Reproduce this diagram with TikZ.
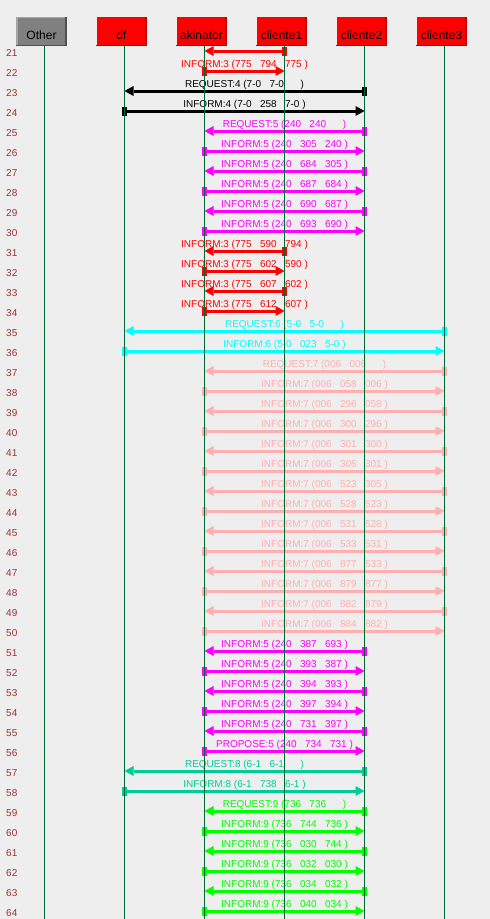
\documentclass[tikz,border=0pt]{standalone}
\usepackage{fontspec}
\setmainfont{Liberation Sans}
\usetikzlibrary{arrows.meta,calc}
\definecolor{bg}{RGB}{238,238,238}
\definecolor{life}{RGB}{0,102,51}
\definecolor{numc}{RGB}{153,51,51}
\definecolor{cRed}{RGB}{255,0,0}
\definecolor{cBlk}{RGB}{0,0,0}
\definecolor{cMag}{RGB}{255,0,255}
\definecolor{cCya}{RGB}{0,255,255}
\definecolor{cPnk}{RGB}{255,175,175}
\definecolor{cTea}{RGB}{0,204,153}
\definecolor{cGrn}{RGB}{0,255,0}
\definecolor{boxRed}{RGB}{255,0,0}
\definecolor{boxRedD}{RGB}{190,0,0}
\definecolor{boxGry}{RGB}{128,128,128}
\definecolor{boxGryD}{RGB}{80,80,80}
\definecolor{boxGryL}{RGB}{165,165,165}
\tikzset{
  msgline/.style={line width=3pt,-{Triangle[length=9pt,width=10pt,line width=0pt]}},
  lbl/.style={anchor=base,inner sep=0pt,font=\fontsize{10}{12}\selectfont},
  num/.style={anchor=base west,inner sep=0pt,text=numc,font=\fontsize{10}{12}\selectfont},
  hdr/.style={minimum width=50pt,minimum height=29pt,inner sep=0pt},
  hdrtxt/.style={anchor=base,inner sep=0pt,font=\fontsize{12}{14}\selectfont},
  lifeline/.style={draw=life,line width=1pt}
}
\newcommand\msg[5]{%
  \coordinate (r#1) at (0,{51+(#1-21)*20});
  \coordinate (s#1) at (#2 |- r#1);
  \coordinate (e#1) at (#3 |- r#1);
  \draw[msgline,#4] (s#1) -- (e#1);
  \fill[#4] ($(s#1)+(-2.25,-4.5)$) rectangle ($(s#1)+(2.25,4.5)$);
  \node[lbl,text=#4] (t#1) at ($(s#1)!0.5!(e#1)+(0,-4)$) {#5};
  \node[num] (n#1) at ($(r#1)+(6,5)$) {#1};
}
\begin{document}
\begin{tikzpicture}[x=1pt,y=-1pt]
\useasboundingbox (0,0) rectangle (490,919);
\fill[bg] (0,0) rectangle (490,919);
% lifeline x positions
\coordinate (Oth) at (44.5,46);
\coordinate (DF) at (124.5,46);
\coordinate (AK) at (204.5,46);
\coordinate (C1) at (284.5,46);
\coordinate (C2) at (364.5,46);
\coordinate (C3) at (444.5,46);
\coordinate (bot) at (0,919);
% messages
\msg{21}{C1}{AK}{cRed}{}
\msg{22}{AK}{C1}{cRed}{INFORM:3 (775~~~794~~~775~)}
\msg{23}{C2}{DF}{cBlk}{REQUEST:4 (7-0~~~7-0~~~~~~)}
\msg{24}{DF}{C2}{cBlk}{INFORM:4 (7-0~~~258~~~7-0~)}
\msg{25}{C2}{AK}{cMag}{REQUEST:5 (240~~~240~~~~~~)}
\msg{26}{AK}{C2}{cMag}{INFORM:5 (240~~~305~~~240~)}
\msg{27}{C2}{AK}{cMag}{INFORM:5 (240~~~684~~~305~)}
\msg{28}{AK}{C2}{cMag}{INFORM:5 (240~~~687~~~684~)}
\msg{29}{C2}{AK}{cMag}{INFORM:5 (240~~~690~~~687~)}
\msg{30}{AK}{C2}{cMag}{INFORM:5 (240~~~693~~~690~)}
\msg{31}{C1}{AK}{cRed}{INFORM:3 (775~~~590~~~794~)}
\msg{32}{AK}{C1}{cRed}{INFORM:3 (775~~~602~~~590~)}
\msg{33}{C1}{AK}{cRed}{INFORM:3 (775~~~607~~~602~)}
\msg{34}{AK}{C1}{cRed}{INFORM:3 (775~~~612~~~607~)}
\msg{35}{C3}{DF}{cCya}{REQUEST:6 (5-0~~~5-0~~~~~~)}
\msg{36}{DF}{C3}{cCya}{INFORM:6 (5-0~~~023~~~5-0~)}
\msg{37}{C3}{AK}{cPnk}{REQUEST:7 (006~~~006~~~~~~)}
\msg{38}{AK}{C3}{cPnk}{INFORM:7 (006~~~058~~~006~)}
\msg{39}{C3}{AK}{cPnk}{INFORM:7 (006~~~296~~~058~)}
\msg{40}{AK}{C3}{cPnk}{INFORM:7 (006~~~300~~~296~)}
\msg{41}{C3}{AK}{cPnk}{INFORM:7 (006~~~301~~~300~)}
\msg{42}{AK}{C3}{cPnk}{INFORM:7 (006~~~305~~~301~)}
\msg{43}{C3}{AK}{cPnk}{INFORM:7 (006~~~523~~~305~)}
\msg{44}{AK}{C3}{cPnk}{INFORM:7 (006~~~528~~~523~)}
\msg{45}{C3}{AK}{cPnk}{INFORM:7 (006~~~531~~~528~)}
\msg{46}{AK}{C3}{cPnk}{INFORM:7 (006~~~533~~~531~)}
\msg{47}{C3}{AK}{cPnk}{INFORM:7 (006~~~877~~~533~)}
\msg{48}{AK}{C3}{cPnk}{INFORM:7 (006~~~879~~~877~)}
\msg{49}{C3}{AK}{cPnk}{INFORM:7 (006~~~882~~~879~)}
\msg{50}{AK}{C3}{cPnk}{INFORM:7 (006~~~884~~~882~)}
\msg{51}{C2}{AK}{cMag}{INFORM:5 (240~~~387~~~693~)}
\msg{52}{AK}{C2}{cMag}{INFORM:5 (240~~~393~~~387~)}
\msg{53}{C2}{AK}{cMag}{INFORM:5 (240~~~394~~~393~)}
\msg{54}{AK}{C2}{cMag}{INFORM:5 (240~~~397~~~394~)}
\msg{55}{C2}{AK}{cMag}{INFORM:5 (240~~~731~~~397~)}
\msg{56}{AK}{C2}{cMag}{PROPOSE:5 (240~~~734~~~731~)}
\msg{57}{C2}{DF}{cTea}{REQUEST:8 (6-1~~~6-1~~~~~~)}
\msg{58}{DF}{C2}{cTea}{INFORM:8 (6-1~~~738~~~6-1~)}
\msg{59}{C2}{AK}{cGrn}{REQUEST:9 (736~~~736~~~~~~)}
\msg{60}{AK}{C2}{cGrn}{INFORM:9 (736~~~744~~~736~)}
\msg{61}{C2}{AK}{cGrn}{INFORM:9 (736~~~030~~~744~)}
\msg{62}{AK}{C2}{cGrn}{INFORM:9 (736~~~032~~~030~)}
\msg{63}{C2}{AK}{cGrn}{INFORM:9 (736~~~034~~~032~)}
\msg{64}{AK}{C2}{cGrn}{INFORM:9 (736~~~040~~~034~)}
% lifelines (drawn over the messages)
\foreach \L in {Oth,DF,AK,C1,C2,C3}{
  \draw[lifeline] (\L) -- (\L |- bot);
}
% header boxes
\foreach \L/\T/\F/\D in {DF/df/boxRed/boxRedD,AK/akinator/boxRed/boxRedD,C1/cliente1/boxRed/boxRedD,C2/cliente2/boxRed/boxRedD,C3/cliente3/boxRed/boxRedD}{
  \node[hdr,fill=\F] (h\L) at ($(\L)+(-3,-14.5)$) {};
  \draw[\D,line width=1.3pt] ($(h\L.north east)+(-0.65,0)$) -- ($(h\L.south east)+(-0.65,-0.65)$) -- ($(h\L.south west)+(0,-0.65)$);
  \node[hdrtxt] (ht\L) at ($(h\L.center)+(0,7.8)$) {\T};
}
\node[hdr,fill=boxGry] (hOth) at ($(Oth)+(-3,-14.5)$) {};
\draw[boxGryL,line width=1.3pt] ($(hOth.south west)+(0.65,0)$) -- ($(hOth.north west)+(0.65,0.65)$) -- ($(hOth.north east)+(0,0.65)$);
\draw[boxGryD,line width=1.3pt] ($(hOth.north east)+(-0.65,0)$) -- ($(hOth.south east)+(-0.65,-0.65)$) -- ($(hOth.south west)+(0,-0.65)$);
\node[hdrtxt] (htOth) at ($(hOth.center)+(0,7.8)$) {Other};
\end{tikzpicture}
\end{document}
